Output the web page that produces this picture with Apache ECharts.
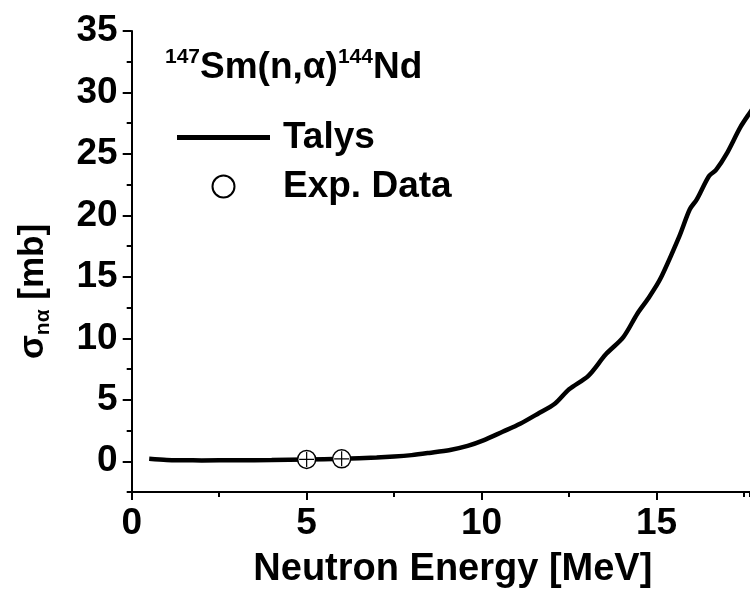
<!DOCTYPE html>
<html>
<head>
<meta charset="utf-8">
<script src="https://cdn.jsdelivr.net/npm/echarts@6/dist/echarts.min.js"></script>
<style>
  html, body { margin: 0; padding: 0; background: #fff; }
  #chart { width: 750px; height: 594px; }
</style>
</head>
<body>
<div id="chart"></div>
<script>
// Talys curve (energy in MeV, cross section in mb)
var talysEnergy = [0.5, 1, 1.5, 2, 3, 4, 5, 6, 7, 7.5, 8, 8.5, 9.1, 9.6, 10.05, 10.6, 11.1, 11.6, 12.1, 12.5, 13.05, 13.55, 14.05, 14.45, 14.75, 15.1, 15.65, 15.95, 16.15, 16.5, 16.7, 17.0, 17.4, 17.7, 18];
var talysSigma  = [0.2, 0.1, 0.08, 0.07, 0.08, 0.1, 0.15, 0.2, 0.3, 0.38, 0.5, 0.68, 0.92, 1.25, 1.7, 2.4, 3.05, 3.85, 4.7, 5.85, 6.95, 8.7, 10.1, 12.0, 13.2, 14.8, 18.3, 20.5, 21.3, 23.2, 23.7, 25.0, 27.2, 28.5, 29.8];
// experimental points
var expEnergy = [5, 6];
var expSigma  = [0.15, 0.2];

var FONT = 'Liberation Sans';
var X_MAX = 17.67; // the plot is cut at the right edge

function pairs(xs, ys) {
  var out = [];
  for (var i = 0; i < xs.length; i++) out.push([xs[i], ys[i]]);
  return out;
}

// helper for the axes that only draw the short (minor) ticks
function minorAxis(min, max, step, pos) {
  return {
    type: 'value', min: min, max: max, interval: step, position: pos,
    axisLine: {show: false, onZero: false},
    axisTick: {show: true, length: 5, lineStyle: {color: '#000', width: 2}},
    axisLabel: {show: false},
    splitLine: {show: false}
  };
}

var chart = echarts.init(document.getElementById('chart'), null, {renderer: 'canvas'});

var option = {
  backgroundColor: '#fff',
  animation: false,
  textStyle: {fontFamily: FONT, fontWeight: 'bold', color: '#000'},
  title: {
    text: '{sup|147}{b|Sm(n,α)}{sup|144}{b|Nd}',
    left: 165,
    top: 47,
    padding: 0,
    textStyle: {
      rich: {
        b: {fontFamily: FONT, fontWeight: 'bold', fontSize: 37, color: '#000', lineHeight: 42},
        sup: {fontFamily: FONT, fontWeight: 'bold', fontSize: 21, color: '#000', lineHeight: 22, verticalAlign: 'top'}
      }
    }
  },
  legend: {
    data: [
      {name: 'Talys', icon: 'path://M0,0L93,0L93,5L0,5Z'},
      {name: 'Exp. Data'}
    ],
    orient: 'vertical',
    left: 177,
    top: 119,
    padding: 0,
    itemWidth: 93,
    itemHeight: 22,
    itemGap: 12,
    textStyle: {fontFamily: FONT, fontWeight: 'bold', fontSize: 37, color: '#000', lineHeight: 37, padding: [0, 0, 0, 8]}
  },
  grid: {left: 131.7, top: 31, right: 0, bottom: 100, containLabel: false},
  xAxis: [
    {
      type: 'value',
      min: 0,
      max: X_MAX,
      interval: 5,
      name: 'Neutron Energy [MeV]',
      nameLocation: 'middle',
      nameGap: 59,
      nameTextStyle: {fontFamily: FONT, fontWeight: 'bold', fontSize: 38, color: '#000', padding: [0, 0, 0, 24]},
      axisLine: {show: true, onZero: false, lineStyle: {color: '#000', width: 2}},
      axisTick: {show: true, inside: false, length: 8, lineStyle: {color: '#000', width: 2}},
      axisLabel: {fontFamily: FONT, fontWeight: 'bold', fontSize: 37, color: '#000', margin: 13, showMaxLabel: false},
      splitLine: {show: false}
    },
    minorAxis(0, X_MAX, 2.5, 'bottom')
  ],
  yAxis: [
    {
      type: 'value',
      min: -2.5,
      max: 35,
      minInterval: 5,
      maxInterval: 5,
      splitNumber: 7,
      name: '{s|σ}{sub|nα}{s| [mb]}',
      nameLocation: 'middle',
      nameGap: 78,
      nameTextStyle: {
        padding: [0, 0, 0, -60],
        rich: {
          s: {fontFamily: FONT, fontWeight: 'bold', fontSize: 35, color: '#000', lineHeight: 40},
          sub: {fontFamily: FONT, fontWeight: 'bold', fontSize: 21, color: '#000', lineHeight: 20, verticalAlign: 'bottom'}
        }
      },
      axisLine: {show: true, onZero: false, lineStyle: {color: '#000', width: 2}},
      axisTick: {show: true, inside: false, length: 9, lineStyle: {color: '#000', width: 2}},
      axisLabel: {
        fontFamily: FONT, fontWeight: 'bold', fontSize: 37, color: '#000', margin: 14,
        showMinLabel: false
      },
      splitLine: {show: false}
    },
    minorAxis(-2.5, 35, 5, 'left')
  ],
  series: [
    {
      name: 'Talys',
      type: 'line',
      data: pairs(talysEnergy, talysSigma),
      showSymbol: false,
      symbol: 'none',
      smooth: 0.3,
      clip: true,
      lineStyle: {color: '#000', width: 4.5},
      itemStyle: {color: '#000'},
      z: 2
    },
    {
      name: 'Exp. Data',
      type: 'scatter',
      data: pairs(expEnergy, expSigma),
      symbol: 'circle',
      symbolSize: 18,
      itemStyle: {color: '#fff', borderColor: '#000', borderWidth: 1.5, opacity: 1},
      z: 3
    },
    {
      name: 'Exp. err',
      type: 'scatter',
      data: pairs(expEnergy, expSigma),
      symbol: 'path://M5,0L5,10M0,5L10,5',
      symbolSize: 15,
      itemStyle: {color: 'transparent', borderColor: '#000', borderWidth: 1.2, opacity: 1},
      z: 4,
      silent: true
    }
  ]
};

chart.setOption(option);
</script>
</body>
</html>
